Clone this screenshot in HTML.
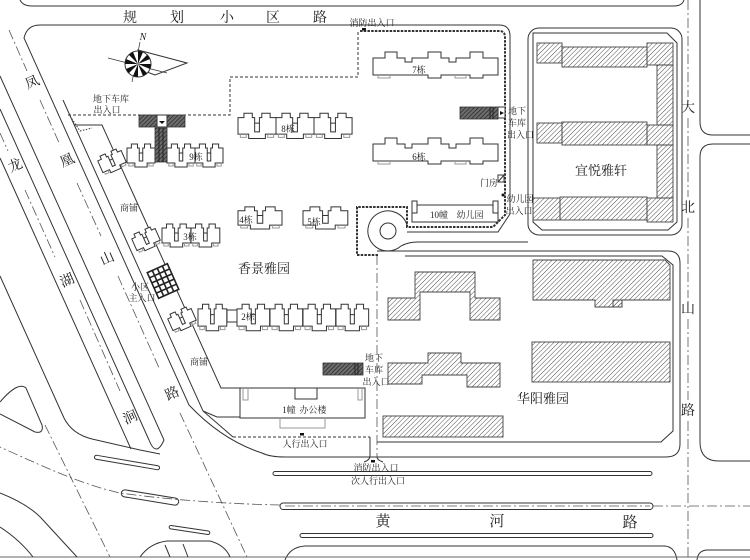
<!DOCTYPE html>
<html><head><meta charset="utf-8"><title>site plan</title>
<style>
html,body{margin:0;padding:0;background:#fff;width:750px;height:560px;overflow:hidden}
svg{display:block}
.t{font-family:"Liberation Serif","Noto Serif CJK SC","Noto Sans CJK SC",serif;fill:#1e1e1e}
</style></head><body>
<svg xmlns="http://www.w3.org/2000/svg" width="750" height="560" viewBox="0 0 750 560">
<defs>
 <pattern id="h" width="3.3" height="3.3" patternUnits="userSpaceOnUse" patternTransform="rotate(45)">
  <line x1="0" y1="0" x2="0" y2="3.3" stroke="#3a3a3a" stroke-width="0.9"/>
 </pattern>
 <pattern id="dh" width="3" height="3" patternUnits="userSpaceOnUse" patternTransform="rotate(45)">
  <rect width="3" height="3" fill="#6e6e6e"/>
  <line x1="0" y1="0" x2="0" y2="3" stroke="#222" stroke-width="1.4"/>
 </pattern>
 <g id="u">
  <path vector-effect="non-scaling-stroke" d="M0,6 H5 V2 H12 V6 H14 V11 H18 V6 H20 V2 H27 V6 H32 V21 H23 V25 H9 V21 H0 Z" fill="#fff" stroke="#333"/>
  <path vector-effect="non-scaling-stroke" d="M14,11 V19 H18 V11" fill="none" stroke="#333"/>
  <path vector-effect="non-scaling-stroke" d="M2,21 V24 H7 V21 M25,21 V24 H30 V21" fill="none" stroke="#999"/>
 </g>
</defs>
<rect width="750" height="560" fill="#fff"/>

<!-- ROADS & BOUNDARIES -->
<g fill="none" stroke="#333" stroke-width="1">
 <path d="M20,0 Q23,6 32,6 H674 Q682,6 684,0"/>
 <path d="M40,25 H499 Q510,25 510,36 V214 L498,232 H407"/>
 <path d="M40,25 Q27,25 24,38 L189,405 Q222,440 262,453 Q270,457 285,457 H666 Q680,457 680,444 V263 Q680,251 668,251 H377"/>
 <path d="M0,276 L64,418 Q72,434 92,439 L140,450 L160,454"/>
 <path d="M0,158 L131,449"/>
 <path d="M0,109 L149,440 Q156,458 164,440 L0,76"/>
 <path d="M63,100 L203,411 L233,437"/>
 <path d="M74,125 H102 L221,388 H240 V417 H217 L203,411"/>
 <rect x="528" y="28" width="154" height="207" rx="11"/>
 <path d="M533,33 H667 L677,43 V222 L668,230 H542 L533,222 Z"/>
 <path d="M405,256 H662 L673,265 V431 L661,442 H377"/>
 <path d="M700,0 V122 Q700,135 713,135 H750"/>
 <path d="M750,144 H713 Q700,144 700,157 V442 Q700,461 719,461 H750"/>
 <path d="M750,550 H708 Q698,550 697,560"/>
 <circle cx="388" cy="231" r="8"/>
 <path d="M407,225 A20 20 0 1 0 401,246 Q408,242 418,242 H528"/>
 <path d="M370,437 V456 Q370,460 364,462"/>
 <path d="M377,457 Q377,460 383,462"/>
 <rect x="273" y="471.5" width="379" height="4" rx="2"/>
 <rect x="280" y="503" width="373" height="6.5" rx="3.2"/>
 <rect x="300" y="533.5" width="353" height="4" rx="2"/>
 <path d="M285,560 Q290,547 305,546 H665 Q675,547 677,560"/>
 <path d="M0,557 H750" stroke="#666"/>
 <path d="M0,402 Q18,381 26,388 L42,425 Q44,434 35,432 L0,414"/>
 <path d="M0,493 Q30,505 43,520 L77,557"/>
 <path d="M0,527 Q20,540 33,557"/>
 <path d="M140,557 Q150,543 167,541 H210 Q225,545 230,557"/>
 <path d="M165,545 L170,557 M183,544 L188,557"/>
 <rect x="94" y="460.5" width="66" height="4" rx="2" transform="rotate(9.7 127 462.5)"/>
 <rect x="121" y="494" width="58" height="7" rx="3.5" transform="rotate(9.3 150 497.5)"/>
 <rect x="169" y="528.3" width="41" height="3.5" rx="1.7" transform="rotate(8.5 190 530)"/>
</g>

<g fill="none" stroke="#555" stroke-width="0.8" stroke-dasharray="10 3 2 3">
 <path d="M688,0 V97 M688,118 V197 M688,218 V298 M688,319 V400 M688,421 V560"/>
 <path d="M653,506 H750"/>
 <path d="M285,506 H650"/>
 <path d="M280,505 C230,504 170,500 120,493 C80,484 40,465 0,447"/>
 <path d="M9,30 L27,71 M40,100 L60,145 M77,183 L101,236 M118,276 L160,370 M180,413 L247,557"/>
 <path d="M0,133 L8,151 M25,190 L55,257 M80,300 L120,391"/>
 <path d="M45,425 L110,557"/>
 <path d="M377,255 V457"/>
</g>

<g fill="none" stroke="#333" stroke-width="1" stroke-dasharray="3 2">
 <path d="M68,115 H230 V77 H358 V31"/>
 <path d="M233,437 H370"/>
 <path d="M70,116 L80,131 L92,128" stroke-dasharray="1.5 1.5"/>
</g>
<path d="M378,255 H357 V207 H407 V227 H493 L505,215 V37 Q505,31 499,31 H360" fill="none" stroke="#333" stroke-width="2" stroke-dasharray="2.5 1.2"/>

<g transform="translate(138,64)" stroke="#333">
 <polygon points="0,-14 49,-1 17,11 9,8" fill="#fff"/>
 <line x1="-30" y1="-6" x2="29" y2="9" stroke-width="0.7"/>
 <line x1="2" y1="-22" x2="-6" y2="18" stroke-width="0.7"/>
 <circle r="13" fill="#fff"/>
 <g fill="#111" stroke="none">
  <path d="M0,0 L0,-13 L5,-12 Z"/>
  <path d="M0,0 L0,-13 L5,-12 Z" transform="rotate(45)"/>
  <path d="M0,0 L0,-13 L5,-12 Z" transform="rotate(90)"/>
  <path d="M0,0 L0,-13 L5,-12 Z" transform="rotate(135)"/>
  <path d="M0,0 L0,-13 L5,-12 Z" transform="rotate(180)"/>
  <path d="M0,0 L0,-13 L5,-12 Z" transform="rotate(225)"/>
  <path d="M0,0 L0,-13 L5,-12 Z" transform="rotate(270)"/>
  <path d="M0,0 L0,-13 L5,-12 Z" transform="rotate(315)"/>
 </g>
</g>

<g fill="url(#h)" stroke="#444" stroke-width="0.9">
 <polygon points="415,272 475,272 475,298 500,298 500,320 470,320 470,292 420,292 420,320 388,320 388,298 415,298"/>
 <polygon points="388,363 428,363 428,353 461,353 461,363 500,363 500,387 467,387 467,375 422,375 422,384 388,384"/>
 <rect x="383" y="416" width="120" height="21"/>
 <polygon points="533,260 665,260 670,265 670,300 622,300 622,307 595,307 595,300 533,300"/>
 <rect x="613" y="300" width="9" height="7"/>
 <rect x="532" y="342" width="138" height="40"/>
 <rect x="537" y="43" width="25" height="20"/>
 <rect x="562" y="47" width="85" height="20"/>
 <rect x="647" y="43" width="26" height="22"/>
 <rect x="657" y="65" width="16" height="60"/>
 <rect x="537" y="123" width="25" height="20"/>
 <rect x="562" y="122" width="85" height="23"/>
 <rect x="647" y="125" width="26" height="20"/>
 <rect x="657" y="145" width="16" height="53"/>
 <rect x="533" y="198" width="27" height="22"/>
 <rect x="560" y="197" width="87" height="23"/>
 <rect x="647" y="198" width="26" height="24"/>
</g>

<use href="#u" transform="translate(112,161) rotate(-24) translate(-13,-11) scale(0.8,0.85)"/>
<use href="#u" transform="translate(146,239) rotate(-24) translate(-13,-11) scale(0.8,0.85)"/>
<use href="#u" transform="translate(182,319) rotate(-24) translate(-13,-11) scale(0.8,0.85)"/>
<use href="#u" transform="translate(127,142) scale(0.875,1)"/>
<use href="#u" transform="translate(167,142) scale(0.875,1)"/>
<use href="#u" transform="translate(195,142) scale(0.875,1)"/>
<use href="#u" transform="translate(238,111) scale(1.19,1.1)"/>
<use href="#u" transform="translate(276,111) scale(1.19,1.1)"/>
<use href="#u" transform="translate(314,111) scale(1.19,1.1)"/>
<use href="#u" transform="translate(238,205) scale(1.375,0.96)"/>
<use href="#u" transform="translate(303,205) scale(1.4,0.96)"/>
<use href="#u" transform="translate(162,222) scale(0.9,1)"/>
<use href="#u" transform="translate(191,222) scale(0.9,1)"/>
<rect x="227" y="310" width="10" height="12" fill="#fff" stroke="#333"/>
<use href="#u" transform="translate(198,302) scale(0.9,1.15)"/>
<use href="#u" transform="translate(237,302) scale(1.02,1.15)"/>
<use href="#u" transform="translate(270,302) scale(1.02,1.15)"/>
<use href="#u" transform="translate(303,302) scale(1.02,1.15)"/>
<use href="#u" transform="translate(336,302) scale(1.02,1.15)"/>

<g transform="translate(163,281) rotate(-24)" fill="none" stroke="#222">
 <rect x="-11" y="-14" width="22" height="28" fill="#fff" stroke-width="1.6"/>
 <path d="M-5.5,-14 V14 M0,-14 V14 M5.5,-14 V14 M-11,-8.4 H11 M-11,-2.8 H11 M-11,2.8 H11 M-11,8.4 H11" stroke-width="1.6"/>
</g>

<g fill="#fff" stroke="#333">
 <path d="M373,58 H385 V52 H397 V58 H405 V62 H412 V58 H428 V52 H441 V58 H449 V62 H456 V58 H470 V52 H483 V58 H498 V75 H483 V78 H470 V75 H441 V78 H428 V75 H373 Z"/>
 <path d="M373,144 H385 V138 H397 V144 H405 V148 H412 V144 H428 V138 H441 V144 H449 V148 H456 V144 H470 V138 H483 V144 H498 V161 H483 V164 H470 V161 H441 V164 H428 V161 H373 Z"/>
 <rect x="240" y="388" width="125" height="30"/>
 <rect x="412" y="205" width="86" height="17"/>
 <rect x="412" y="201" width="5" height="12"/>
 <rect x="493" y="201" width="5" height="12"/>
 <rect x="498" y="175" width="6" height="7"/>
 <rect x="498" y="107" width="7" height="11"/>
 <rect x="157" y="115" width="10" height="12"/>
</g>
<g fill="none" stroke="#999">
 <path d="M378,75 V78 H390 V75 M455,75 V78 H466 V75 M378,161 V164 H390 V161 M455,161 V164 H466 V161"/>
 <path d="M243,388 V400 H248 V388 M358,388 V400 H362 V388 M280,418 V428 H325 V418"/>
</g>
<path d="M295,388 V399 H317 V388 M498,182 L504,175" fill="none" stroke="#333"/>

<g fill="url(#dh)" stroke="#333" stroke-width="0.8">
 <rect x="139" y="115" width="18" height="12"/>
 <rect x="167" y="115" width="18" height="12"/>
 <rect x="155" y="128" width="12" height="34"/>
 <rect x="460" y="107" width="38" height="12"/>
 <rect x="323" y="363" width="40" height="12"/>
</g>
<path d="M159,128 V162 M163,128 V162 M490,107 V119 M493,107 V119 M355,363 V375 M358,363 V375" stroke="#222" fill="none"/>

<g fill="#111">
 <rect x="362" y="28" width="4" height="2.5"/>
 <rect x="300" y="433" width="4" height="2.5"/>
 <rect x="371" y="460" width="4" height="2.5"/>
 <circle cx="503" cy="195" r="1.5"/>
 <polygon points="500,111 504,113 500,115"/>
 <polygon points="159,121 165,121 162,124"/>
</g>

<g class="t" text-anchor="middle" font-size="14">
 <text x="130" y="22">规</text><text x="177" y="22">划</text><text x="227" y="22">小</text><text x="273" y="22">区</text><text x="320" y="22">路</text>
 <text transform="translate(32,82) rotate(-24)" y="5">凤</text>
 <text transform="translate(67,160) rotate(-24)" y="5">凰</text>
 <text transform="translate(107,258) rotate(-24)" y="5">山</text>
 <text transform="translate(172,393) rotate(-24)" y="5">路</text>
 <text transform="translate(15,165) rotate(-24)" y="5">龙</text>
 <text transform="translate(67,280) rotate(-24)" y="5">湖</text>
 <text transform="translate(130,417) rotate(-24)" y="5">涧</text>
 <text x="688" y="112">大</text><text x="688" y="212">北</text><text x="688" y="313">山</text><text x="688" y="415">路</text>
 <text x="383" y="526" font-size="15">黄</text><text x="497" y="526" font-size="15">河</text><text x="630" y="527" font-size="15">路</text>
</g>
<g class="t" text-anchor="middle" font-size="13">
 <text x="264" y="273">香景雅园</text>
 <text x="543" y="403">华阳雅园</text>
 <text x="601" y="175">宜悦雅轩</text>
</g>
<g class="t" text-anchor="middle" font-size="9">
 <text x="372" y="26">消防出入口</text>
 <text x="111" y="102">地下车库</text>
 <text x="107" y="113">出入口</text>
 <text x="489" y="186">门房</text>
 <text x="520" y="202">幼儿园</text>
 <text x="519" y="214">出入口</text>
 <text x="439" y="218">10幢</text>
 <text x="470" y="218">幼儿园</text>
 <text x="419" y="73">7栋</text>
 <text x="419" y="160">6栋</text>
 <text x="288" y="132">8栋</text>
 <text x="196" y="160">9栋</text>
 <text x="246" y="223">4栋</text>
 <text x="314" y="225">5栋</text>
 <text x="190" y="240">3栋</text>
 <text x="248" y="320">2栋</text>
 <text x="289" y="413">1幢</text>
 <text x="313" y="413">办公楼</text>
 <text x="129" y="211">商铺</text>
 <text x="199" y="365">商铺</text>
 <text x="140" y="290">小区</text>
 <text x="142" y="301">主入口</text>
 <text x="374" y="361">地下</text>
 <text x="374" y="373">车库</text>
 <text x="376" y="385">出入口</text>
 <text x="305" y="447">人行出入口</text>
 <text x="376" y="471">消防出入口</text>
 <text x="378" y="484">次人行出入口</text>
</g>
<g class="t" font-size="9" text-anchor="start">
 <text x="508" y="114">地下</text>
 <text x="508" y="126">车库</text>
 <text x="507" y="138">出入口</text>
</g>
<text class="t" x="143" y="40" font-size="10" font-style="italic" text-anchor="middle">N</text>
</svg>
</body></html>
